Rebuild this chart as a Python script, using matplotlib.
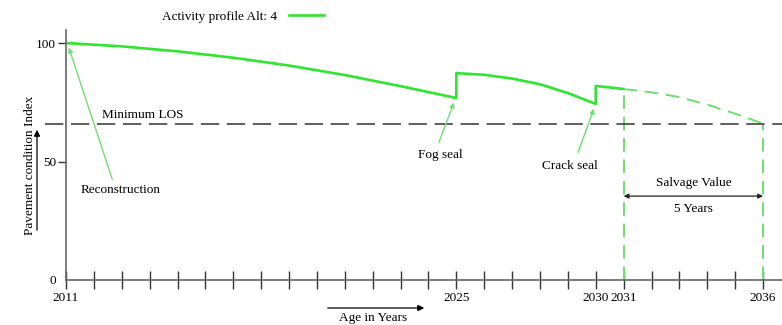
import numpy as np
import matplotlib
matplotlib.use("Agg")
import matplotlib.pyplot as plt

plt.rcParams['font.family'] = ['Liberation Serif', 'DejaVu Serif']
plt.rcParams['font.size'] = 9.5

# condition profile
yrs_solid = [2011, 2013, 2015, 2017, 2019, 2021, 2023, 2025,
             2025, 2026, 2027, 2028, 2029, 2030,
             2030, 2031]
pci_solid = [100, 98.6, 96.5, 93.8, 90.5, 86.5, 81.8, 76.8,
             87.3, 86.6, 85.0, 82.6, 78.9, 74.3,
             81.9, 80.6]
yrs_proj = [2031, 2032, 2033, 2034, 2035, 2036]
pci_proj = [80.6, 79.2, 77.2, 74.0, 70.2, 66.0]
min_los = 66
label_years = [2011, 2025, 2030, 2031, 2036]
y_ticks = [0, 50, 100]

green = '#2ee62e'
light = '#6fdf6f'
axcol = '#666666'

fig = plt.figure(figsize=(7.82, 3.25), dpi=100)
ax = fig.add_axes([66/782, 45/325, 716/782, 250/325])
ax.set_xlim(2011, 2036.68)
ax.set_ylim(0, 105.5)

ax.plot(yrs_solid, pci_solid, color=green, lw=1.9, label='Activity profile Alt: 4')
ax.plot(yrs_proj, pci_proj, color=light, lw=1.4, ls=(0, (7, 4)))
ax.vlines([yrs_proj[0], yrs_proj[-1]], 0, [pci_proj[0], pci_proj[-1]],
          color=light, lw=1.4, linestyles=[(0, (7, 4))])

ax.plot([2010.25, 2036.68], [min_los, min_los], color='#333333', lw=1.1,
        ls=(0, (12, 5)), clip_on=False)
ax.text(2012.29, min_los + 1.2, 'Minimum LOS', ha='left', va='bottom')

# callouts
arr = dict(arrowstyle='-|>', color=light, lw=1.0, mutation_scale=7)
ax.annotate('', xy=(2011.07, 99.2), xytext=(2012.69, 41.4), arrowprops=arr)
ax.text(2012.97, 38, 'Reconstruction', ha='center', va='center')
ax.annotate('', xy=(2024.95, 76), xytext=(2024.34, 57), arrowprops=arr)
ax.text(2024.41, 52.7, 'Fog seal', ha='center', va='center')
ax.annotate('', xy=(2029.97, 73.4), xytext=(2029.33, 52.7), arrowprops=arr)
ax.text(2029.08, 48.1, 'Crack seal', ha='center', va='center')

# salvage value span
ax.annotate('', xy=(yrs_proj[0], 35.4), xytext=(yrs_proj[-1], 35.4),
            arrowprops=dict(arrowstyle='<|-|>', color='#222222', lw=0.9,
                            mutation_scale=7, shrinkA=0, shrinkB=0))
ax.text(2033.5, 38.5, 'Salvage Value', ha='center', va='bottom')
ax.text(2033.5, 32.5, '5 Years', ha='center', va='top')

for s in ['top', 'right']:
    ax.spines[s].set_visible(False)
for s in ['left', 'bottom']:
    ax.spines[s].set_color(axcol)
    ax.spines[s].set_linewidth(1.2)
ax.spines['left'].set_bounds(0, 105.5)

xt = list(range(2011, 2037))
ax.set_xticks(xt)
ax.set_xticklabels([str(y) if y in label_years else '' for y in xt])
ax.tick_params(axis='x', direction='inout', length=13, width=1.0,
               color='#333333', pad=2)
ax.set_yticks(y_ticks)
ax.tick_params(axis='y', direction='out', length=6, width=1.0,
               color='#333333', pad=1)
ax.yaxis.get_major_ticks()[0].tick1line.set_visible(False)

# axis captions with arrows
fig.text(373/782, 1 - 318/325, 'Age in Years', ha='center', va='center')
fig.add_artist(matplotlib.patches.FancyArrowPatch(
    (325/782, 1 - 308/325), (427/782, 1 - 308/325), transform=fig.transFigure,
    arrowstyle='-|>', mutation_scale=9, color='black', lw=0.9))
fig.text(30/782, 1 - 165/325, 'Pavement condition Index', rotation=90,
         ha='center', va='center')
fig.add_artist(matplotlib.patches.FancyArrowPatch(
    (37/782, 1 - 233/325), (37/782, 1 - 127/325), transform=fig.transFigure,
    arrowstyle='-|>', mutation_scale=9, color='black', lw=0.9))

fig.legend(loc='center', bbox_to_anchor=(243/782, 1 - 17/325), frameon=False,
           markerfirst=False, handlelength=2.6, handletextpad=0.9)

fig.savefig('out.png', dpi=100)
